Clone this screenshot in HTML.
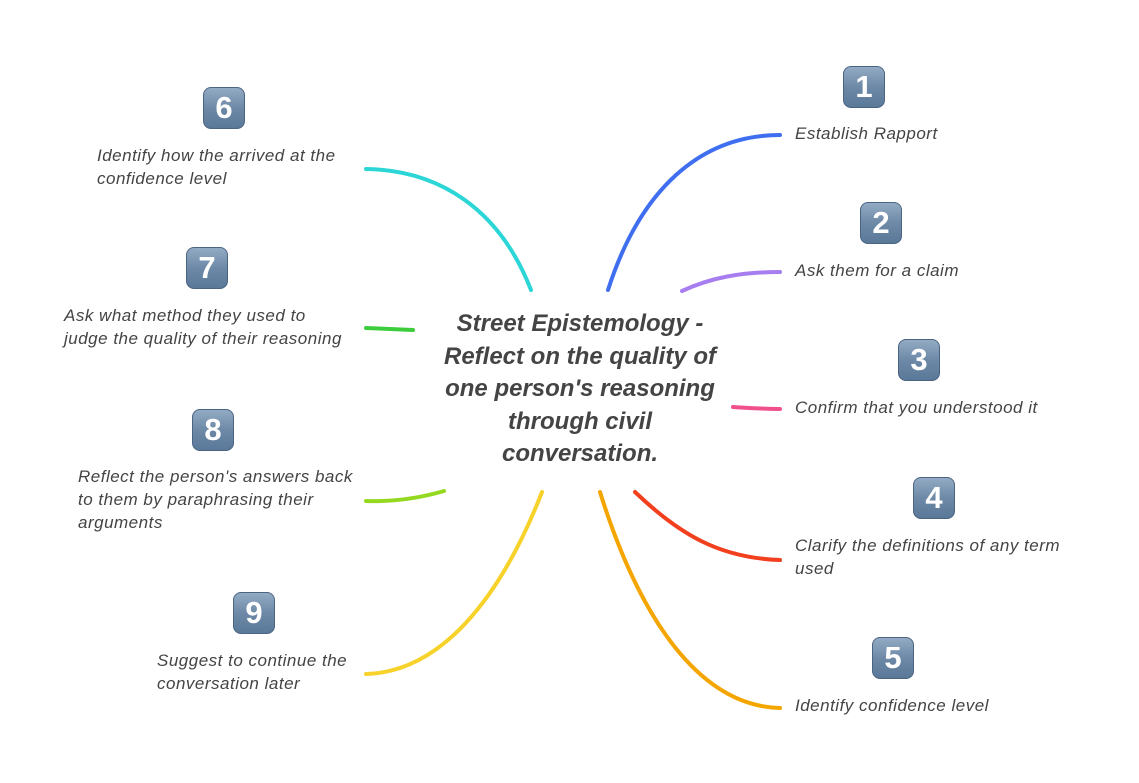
<!DOCTYPE html>
<html><head><style>
body{margin:0;width:1139px;height:783px;background:#fff;position:relative;font-family:"Liberation Sans",sans-serif;overflow:hidden}
.t{position:absolute;font-style:italic;font-size:17px;color:#444;line-height:23px;white-space:nowrap;letter-spacing:0.5px}
.k{position:absolute;width:42px;height:42px;border-radius:8px;background:linear-gradient(#93abc4,#6d89a7 50%,#5a7898);border:1px solid #4a6482;box-sizing:border-box;color:#fff;font-weight:bold;font-size:31px;text-align:center;line-height:40px}
.c{position:absolute;left:430px;top:308px;width:300px;text-align:center;font-style:italic;font-weight:bold;font-size:24px;line-height:32.5px;color:#444}
</style></head><body>
<svg width="1139" height="783" style="position:absolute;left:0;top:0" fill="none" stroke-width="4" stroke-linecap="round">
<path d="M608,290 C640,190 700,135 780,135" stroke="#3f6ff0"/>
<path d="M682,291 C710,278 740,272 780,272" stroke="#a77ef0"/>
<path d="M733,407 C750,408 765,409 780,409" stroke="#f0508c"/>
<path d="M635,492 C680,535 720,558 780,560" stroke="#f2401f"/>
<path d="M600,492 C640,620 700,706 780,708" stroke="#f5a500"/>
<path d="M531,290 C500,210 440,170 366,169" stroke="#2dd6d6"/>
<path d="M413,330 L366,328" stroke="#3ccc3c"/>
<path d="M444,491 C420,498 395,502 366,501" stroke="#94d920"/>
<path d="M542,492 C500,600 440,672 366,674" stroke="#f7d22a"/>
</svg>
<div class="c">Street Epistemology -<br>Reflect on the quality of<br>one person's reasoning<br>through civil<br>conversation.</div>
<div class="k" style="left:843px;top:66px">1</div>
<div class="k" style="left:860px;top:202px">2</div>
<div class="k" style="left:898px;top:339px">3</div>
<div class="k" style="left:913px;top:477px">4</div>
<div class="k" style="left:872px;top:637px">5</div>
<div class="k" style="left:203px;top:87px">6</div>
<div class="k" style="left:186px;top:247px">7</div>
<div class="k" style="left:192px;top:409px">8</div>
<div class="k" style="left:233px;top:592px">9</div>
<div class="t" style="left:795px;top:122px">Establish Rapport</div>
<div class="t" style="left:795px;top:259px">Ask them for a claim</div>
<div class="t" style="left:795px;top:396px">Confirm that you understood it</div>
<div class="t" style="left:795px;top:534px">Clarify the definitions of any term<br>used</div>
<div class="t" style="left:795px;top:694px">Identify confidence level</div>
<div class="t" style="left:97px;top:144px">Identify how the arrived at the<br>confidence level</div>
<div class="t" style="left:64px;top:304px">Ask what method they used to<br>judge the quality of their reasoning</div>
<div class="t" style="left:78px;top:465px">Reflect the person's answers back<br>to them by paraphrasing their<br>arguments</div>
<div class="t" style="left:157px;top:649px">Suggest to continue the<br>conversation later</div>
</body></html>
